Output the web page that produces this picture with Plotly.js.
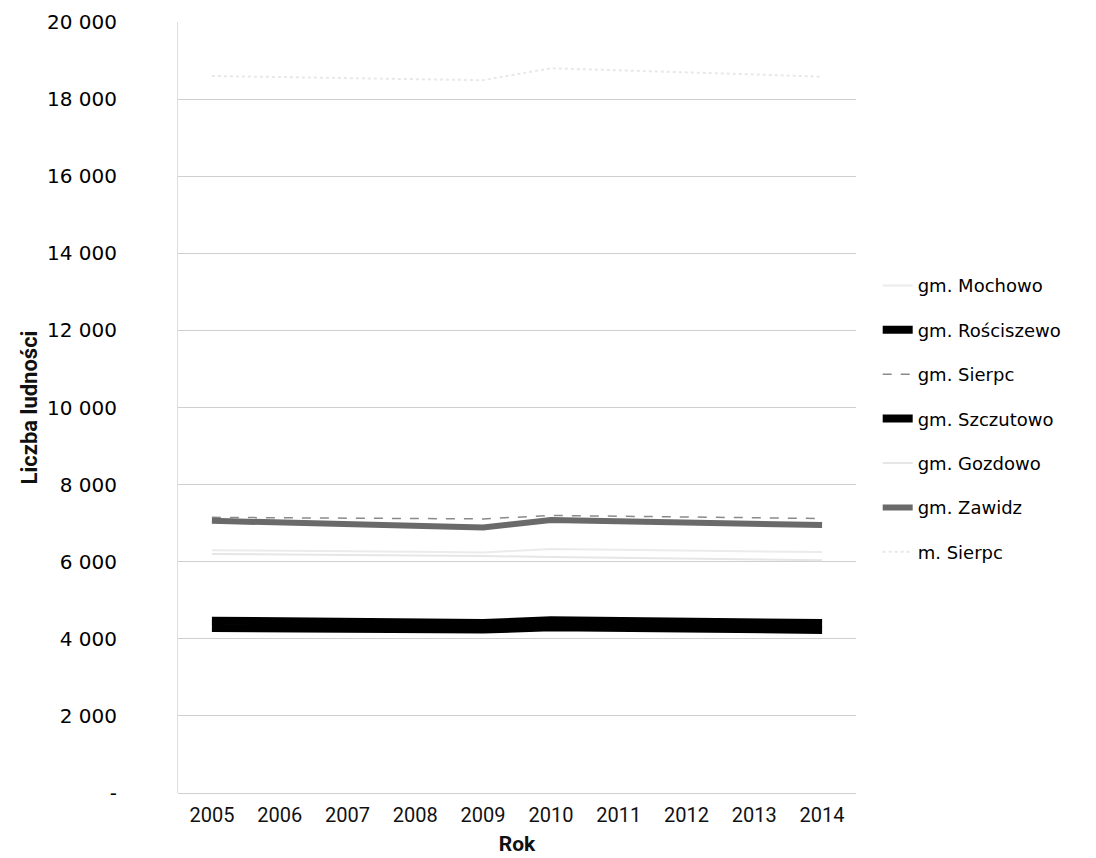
<!DOCTYPE html>
<html>
<head>
<meta charset="utf-8">
<script src="https://cdn.plot.ly/plotly-3.0.1.min.js"></script>
<style>html,body{margin:0;padding:0;background:#fff;}#chart{width:1096px;height:858px;}</style>
</head>
<body>
<div id="chart"></div>
<script>
const years = ["2005","2006","2007","2008","2009","2010","2011","2012","2013","2014"];
const seriesNames = ["gm. Mochowo","gm. Rościszewo","gm. Sierpc","gm. Szczutowo","gm. Gozdowo","gm. Zawidz","m. Sierpc"];
const mochowo     = [6300, 6290, 6270, 6260, 6240, 6330, 6310, 6290, 6270, 6250];
const rosciszewo  = [4470, 4455, 4440, 4425, 4410, 4480, 4465, 4450, 4430, 4410];
const gmSierpc    = [7150, 7140, 7130, 7120, 7110, 7200, 7180, 7160, 7140, 7120];
const szczutowo   = [4280, 4270, 4260, 4250, 4240, 4300, 4290, 4270, 4250, 4230];
const gozdowo     = [6200, 6190, 6180, 6170, 6150, 6120, 6100, 6080, 6060, 6040];
const zawidz      = [7060, 7010, 6960, 6920, 6890, 7080, 7050, 7010, 6980, 6950];
const mSierpc     = [18600, 18570, 18540, 18520, 18490, 18800, 18750, 18700, 18640, 18580];
const yTickVals   = [0, 2000, 4000, 6000, 8000, 10000, 12000, 14000, 16000, 18000, 20000];
const yTickText   = ["-", "2 000", "4 000", "6 000", "8 000", "10 000", "12 000", "14 000", "16 000", "18 000", "20 000"];

const values = [mochowo, rosciszewo, gmSierpc, szczutowo, gozdowo, zawidz, mSierpc];
const styles = [
  {color: "#ebebeb", width: 2, dash: "solid"},
  {color: "#000000", width: 8, dash: "solid"},
  {color: "#8a8a8a", width: 1.5, dash: "dash"},
  {color: "#000000", width: 8, dash: "solid"},
  {color: "#e6e6e6", width: 2, dash: "solid"},
  {color: "#6a6a6a", width: 6, dash: "solid"},
  {color: "#e8e8e8", width: 2, dash: "dot"}
];

const traces = seriesNames.map((name, i) => ({
  type: "scatter",
  mode: "lines",
  name: name,
  x: years,
  y: values[i],
  legendgroup: "g" + i,
  line: {color: styles[i].color, width: styles[i].width, dash: styles[i].dash}
}));

const titleFont = "Roboto, 'Noto Sans', sans-serif";

const layout = {
  width: 1096,
  height: 858,
  paper_bgcolor: "#ffffff",
  plot_bgcolor: "#ffffff",
  margin: {l: 178, r: 240, t: 22, b: 65},
  showlegend: true,
  legend: {
    x: 1.032, xanchor: "left",
    y: 0.682, yanchor: "top",
    font: {family: "'DejaVu Sans', sans-serif", size: 18, color: "#000"},
    tracegroupgap: 18,
    bgcolor: "rgba(0,0,0,0)"
  },
  xaxis: {
    type: "category",
    range: [-0.5, 9.5],
    showgrid: false,
    zeroline: false,
    showline: false,
    ticks: "",
    ticklabelstandoff: 8,
    tickfont: {family: titleFont, size: 20, color: "#111"},
    title: {text: "<b>Rok</b>", font: {family: titleFont, size: 21, color: "#111"}, standoff: 10}
  },
  yaxis: {
    range: [0, 20000],
    tickvals: yTickVals,
    ticktext: yTickText,
    showgrid: true,
    gridcolor: "#cfcfcf",
    gridwidth: 1,
    zeroline: true,
    zerolinecolor: "#cfcfcf",
    showline: true,
    linecolor: "#dedede",
    ticks: "",
    ticklabelstandoff: 56,
    tickfont: {family: "'DejaVu Sans', sans-serif", size: 20, color: "#000"},
    title: {text: "<b>Liczba ludności</b>", font: {family: titleFont, size: 22, color: "#111"}, standoff: 3}
  }
};

Plotly.newPlot("chart", traces, layout, {displayModeBar: false, staticPlot: true});
</script>
</body>
</html>
